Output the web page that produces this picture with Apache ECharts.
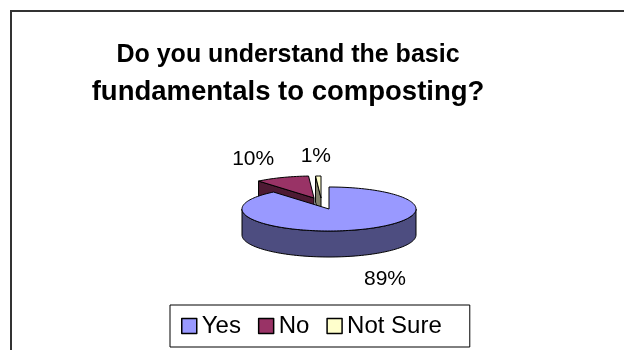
<!DOCTYPE html>
<html><head><meta charset="utf-8">
<script src="https://cdn.jsdelivr.net/npm/echarts@6/dist/echarts.min.js"></script>
<style>html,body{margin:0;padding:0;background:#fff}#c{width:624px;height:350px}</style>
</head><body><div id="c"></div>
<script>
// ---- data ----
const titleLines = ['Do you understand the basic', 'fundamentals to composting?'];
const categories = ['Yes', 'No', 'Not Sure'];
const values = [89, 10, 1];
const percentLabels = ['89%', '10%', '1%'];

// ---- style ----
const topColors = ['#9999FF', '#993366', '#FFFFCC'];
const sideColors = ['#4D4D80', '#4D1A33', '#80806A'];
const explodeOffset = [[0, 0], [-15, -11], [-8, -11]];
const CX = 329, CY = 209, RX = 87, RY = 22, DEPTH = 26;
const FONT = '"Liberation Sans", Arial, sans-serif';

const total = values.reduce((a, b) => a + b, 0);
const startAngles = [];
{ let acc = 0; values.forEach(v => { startAngles.push(acc); acc += v / total * 360; }); }
// draw order: farther back (mid angle nearer 0/360) first
const mids = values.map((v, i) => startAngles[i] + v / total * 180);
const order = mids.map((m, i) => [Math.cos(m * Math.PI / 180), i]).sort((a, b) => b[0] - a[0]).map(d => d[1]);
const rank = []; order.forEach((idx, r) => rank[idx] = r);

function renderItem(params, api) {
  const i = params.dataIndex;
  const v = api.value(0);
  const start = startAngles[i];
  const end = start + v / total * 360;
  const ox = CX + explodeOffset[i][0], oy = CY + explodeOffset[i][1];
  const pt = (deg, dz) => { const r = deg * Math.PI / 180; return [ox + RX * Math.sin(r), oy - RY * Math.cos(r) + dz]; };
  const arc = (a0, a1, dz) => {
    const n = Math.max(2, Math.ceil(Math.abs(a1 - a0) / 2));
    const out = [];
    for (let s = 0; s <= n; s++) out.push(pt(a0 + (a1 - a0) * s / n, dz));
    return out;
  };
  const base = rank[i] * 10;
  const stroke = { stroke: '#000', lineWidth: 1, lineJoin: 'round' };
  const children = [];
  // outer wall (front half only)
  const w0 = Math.max(start, 90), w1 = Math.min(end, 270);
  if (w1 > w0) {
    const pts = arc(w0, w1, 0).concat(arc(w1, w0, DEPTH));
    children.push({ type: 'polygon', z2: base + 1, shape: { points: pts }, style: Object.assign({ fill: sideColors[i] }, stroke) });
  }
  // radial faces
  const face = (deg) => {
    const p = pt(deg, 0), q = pt(deg, DEPTH);
    return [[ox, oy], p, q, [ox, oy + DEPTH]];
  };
  if (Math.sin(start * Math.PI / 180) < -1e-6) {
    children.push({ type: 'polygon', z2: base + 2, shape: { points: face(start) }, style: Object.assign({ fill: sideColors[i] }, stroke) });
  }
  if (Math.sin(end * Math.PI / 180) > 1e-6) {
    children.push({ type: 'polygon', z2: base + 2, shape: { points: face(end) }, style: Object.assign({ fill: sideColors[i] }, stroke) });
  }
  // top face
  const topPts = [[ox, oy]].concat(arc(start, end, 0));
  children.push({ type: 'polygon', z2: base + 3, shape: { points: topPts }, style: Object.assign({ fill: topColors[i] }, stroke) });
  // percentage label
  const mid = (start + end) / 2, mr = mid * Math.PI / 180;
  const lx = ox + 1.9 * RX * Math.sin(mr);
  const ly = oy - 1.9 * RY * Math.cos(mr) + (Math.cos(mr) < 0 ? DEPTH * 1.2 : 0);
  children.push({ type: 'text', z2: 100, x: lx, y: ly, style: { text: percentLabels[i], fill: '#000', font: '21px ' + FONT, align: 'center', verticalAlign: 'middle' } });
  return { type: 'group', children: children };
}

const chart = echarts.init(document.getElementById('c'), null, { renderer: 'canvas' });
chart.setOption({
  animation: false,
  backgroundColor: '#fff',
  title: {
    text: '{a|' + titleLines[0] + '}\n{b|' + titleLines[1] + '}', left: 283, top: 32, textAlign: 'center',
    textStyle: {
      fontFamily: FONT, fontWeight: 'bold', fontSize: 25, lineHeight: 37, color: '#000',
      rich: {
        a: { fontFamily: FONT, fontWeight: 'bold', fontSize: 25, lineHeight: 37, color: '#000' },
        b: { fontFamily: FONT, fontWeight: 'bold', fontSize: 27.5, lineHeight: 37, color: '#000' }
      }
    }
  },
  legend: {
    data: categories, left: 170, top: 305, orient: 'horizontal',
    icon: 'rect', itemWidth: 15, itemHeight: 15, itemGap: 17,
    padding: [9, 28, 9, 11], borderColor: '#000', borderWidth: 1,
    itemStyle: { borderColor: '#000', borderWidth: 1.5 },
    textStyle: { fontFamily: FONT, fontSize: 24, color: '#000' },
    selectedMode: false
  },
  graphic: [{
    type: 'rect', shape: { x: 11, y: 11, width: 700, height: 400 },
    style: { fill: 'none', stroke: '#333', lineWidth: 2 }, z: -1, silent: true
  }],
  series: [
    {
      type: 'custom', coordinateSystem: 'none', renderItem: renderItem,
      data: values.map((v, i) => ({ name: categories[i], value: [v] })), silent: true
    },
    {
      type: 'pie', radius: [0, 0], center: [-50, -50], silent: true,
      label: { show: false }, labelLine: { show: false },
      data: values.map((v, i) => ({ name: categories[i], value: v, itemStyle: { color: topColors[i], borderWidth: 0 } }))
    }
  ]
});
</script></body></html>
